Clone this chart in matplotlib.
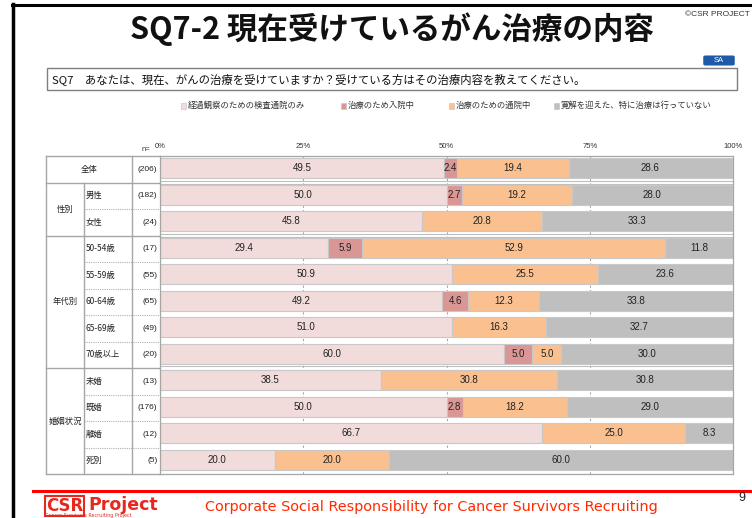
import matplotlib
matplotlib.use("Agg")
import matplotlib.pyplot as plt
from matplotlib.patches import Rectangle, FancyBboxPatch
from matplotlib.lines import Line2D

plt.rcParams['font.family'] = ['Noto Sans CJK JP', 'DejaVu Sans']

# ---------------- data ----------------
row_labels = ["全体", "男性", "女性", "50-54歳", "55-59歳", "60-64歳", "65-69歳", "70歳以上",
              "未婚", "既婚", "離婚", "死別"]
n_values = [206, 182, 24, 17, 55, 65, 49, 20, 13, 176, 12, 5]
series_names = ["経過観察のための検査通院のみ", "治療のため入院中", "治療のための通院中",
                "寛解を迎えた、特に治療は行っていない"]
kensa = [49.5, 50.0, 45.8, 29.4, 50.9, 49.2, 51.0, 60.0, 38.5, 50.0, 66.7, 20.0]
nyuin = [2.4, 2.7, 0.0, 5.9, 0.0, 4.6, 0.0, 5.0, 0.0, 2.8, 0.0, 0.0]
tsuin = [19.4, 19.2, 20.8, 52.9, 25.5, 12.3, 16.3, 5.0, 30.8, 18.2, 25.0, 20.0]
kankai = [28.6, 28.0, 33.3, 11.8, 23.6, 33.8, 32.7, 30.0, 30.8, 29.0, 8.3, 60.0]
groups = [("性別", 1, 2), ("年代別", 3, 7), ("婚姻状況", 8, 11)]
tick_vals = [0, 25, 50, 75, 100]
tick_labels = ["0%", "25%", "50%", "75%", "100%"]

colors = ["#F2DCDB", "#D99694", "#FAC090", "#BFBFBF"]

W, H = 752, 518
fig = plt.figure(figsize=(W / 100, H / 100), dpi=100)

def fx(px):
    return px / W

def fy(py):
    return 1 - py / H

# main axes for bars
x0, x1 = 160, 733
y0, y1 = 156, 474
ax = fig.add_axes([fx(x0), fy(y1), fx(x1) - fx(x0), fy(y0) - fy(y1)])
nrows = len(row_labels)
ax.set_xlim(0, 100)
ax.set_ylim(nrows - 0.5, -0.5)
for s in ax.spines.values():
    s.set_visible(False)
ax.set_xticks([])
ax.set_yticks([])

for v in [25, 50, 75]:
    ax.axvline(v, color="#A6A6A6", lw=0.8, ls=(0, (2, 2)), zorder=0)

series = [kensa, nyuin, tsuin, kankai]
ypos = list(range(nrows))
left = [0.0] * nrows
bh = 0.76
for k, vals in enumerate(series):
    ax.barh([y - 0.04 for y in ypos], vals, left=left, height=bh, color=colors[k],
            edgecolor="#C8C8C8", linewidth=0.8, zorder=2)
    for i, v in enumerate(vals):
        if v > 0:
            ax.text(left[i] + v / 2, ypos[i] - 0.04, f"{v:.1f}", ha="center", va="center",
                    fontsize=7, color="#222222", family=["Liberation Sans"], zorder=3)
    left = [l + v for l, v in zip(left, vals)]

# border of bar area
ax.plot([0, 100], [-0.5, -0.5], color="#A6A6A6", lw=0.9, clip_on=False, zorder=4)
ax.plot([0, 100], [nrows - 0.5, nrows - 0.5], color="#A6A6A6", lw=0.9, clip_on=False, zorder=4)
ax.plot([100, 100], [-0.5, nrows - 0.5], color="#A6A6A6", lw=0.9, clip_on=False, zorder=4)
ax.plot([0, 0], [-0.5, nrows - 0.5], color="#A6A6A6", lw=0.9, clip_on=False, zorder=4)
for b in [0.5, 2.5, 7.5]:
    ax.plot([0, 100], [b - 0.06, b - 0.06], color="#BFBFBF", lw=0.8, clip_on=False, zorder=1)
    ax.plot([0, 100], [b + 0.06, b + 0.06], color="#BFBFBF", lw=0.8, clip_on=False, zorder=1)

# tick labels
for v, t in zip(tick_vals, tick_labels):
    ax.text(v, -0.84, t, ha="center", va="center", fontsize=5.5, color="#333333",
            family=["Liberation Sans"], clip_on=False)
ax.text((146 - x0) / (x1 - x0) * 100, -0.74, "n=", ha="center", va="center", fontsize=5.5,
        color="#333333", family=["Liberation Sans"], clip_on=False)

# ---------------- table on the left ----------------
tr = ax.get_yaxis_transform()  # x in axes coords, y in data

def axx(px):
    return (px - x0) / (x1 - x0)

def hline(pxa, pxb, y, **kw):
    ax.add_line(Line2D([axx(pxa), axx(pxb)], [y, y], transform=tr, clip_on=False, **kw))

def vline(px, ya, yb, **kw):
    ax.add_line(Line2D([axx(px), axx(px)], [ya, yb], transform=tr, clip_on=False, **kw))

lc = "#A6A6A6"
tl, c1, c2, c3 = 46, 84, 132, 160
for b in [-0.5, 0.5, 2.5, 7.5, nrows - 0.5]:
    hline(tl, c3, b, color=lc, lw=1.0)
for b in [1.5, 3.5, 4.5, 5.5, 6.5, 8.5, 9.5, 10.5]:
    hline(c1, c3, b, color="#B0B0B0", lw=0.8, ls=(0, (1, 1)))
vline(tl, -0.5, nrows - 0.5, color=lc, lw=1.0)
vline(c1, 0.5, nrows - 0.5, color=lc, lw=1.0)
vline(c2, -0.5, nrows - 0.5, color=lc, lw=1.0)

ax.text(axx((tl + c2) / 2), 0, row_labels[0], transform=tr, ha="center", va="center",
        fontsize=6, color="#222222")
for i in range(1, nrows):
    ax.text(axx(86), i, row_labels[i], transform=tr, ha="left", va="center",
            fontsize=6, color="#222222")
for i in range(nrows):
    ax.text(axx(157.5), i, f"({n_values[i]})", transform=tr, ha="right", va="center",
            fontsize=6, color="#222222", family=["Liberation Sans"])
for name, a, b in groups:
    ax.text(axx((tl + c1) / 2), (a + b) / 2, name, transform=tr, ha="center", va="center",
            fontsize=6, color="#222222")

# ---------------- decorations ----------------
# black frame
fig.add_artist(Line2D([fx(13), fx(13)], [fy(4), fy(518)], color="black", lw=2.5))
fig.add_artist(Line2D([fx(12), fx(752)], [fy(4.5), fy(4.5)], color="black", lw=2.2))

fig.text(fx(392), fy(29), "SQ7-2 現在受けているがん治療の内容", ha="center", va="center",
         fontsize=22, fontweight="bold", color="#111111")
fig.text(fx(750), fy(14), "©CSR PROJECT", ha="right", va="center", fontsize=6,
         color="#333333", family=["Liberation Sans", "DejaVu Sans"])

sa = FancyBboxPatch((fx(704), fy(65)), fx(30), fy(56) - fy(65),
                    boxstyle="round,pad=0.001,rounding_size=0.003",
                    transform=fig.transFigure, facecolor="#1E5AA8", edgecolor="none")
fig.add_artist(sa)
fig.text(fx(719), fy(60.5), "SA", ha="center", va="center", fontsize=5.5, color="white",
         family=["Liberation Sans"])

qbox = Rectangle((fx(47), fy(90)), fx(737) - fx(47), fy(68) - fy(90), transform=fig.transFigure,
                 facecolor="white", edgecolor="#7F7F7F", lw=1.0)
fig.add_artist(qbox)
fig.text(fx(52), fy(79), "SQ7　あなたは、現在、がんの治療を受けていますか？受けている方はその治療内容を教えてください。",
         ha="left", va="center", fontsize=8.2, color="#111111")

# legend
leg_x = [181, 341, 449, 554]
for xp, name, col in zip(leg_x, series_names, colors):
    fig.add_artist(Rectangle((fx(xp), fy(108.5)), fx(5), fy(103) - fy(108.5),
                             transform=fig.transFigure, facecolor=col,
                             edgecolor="#C8C8C8", lw=0.5))
    fig.text(fx(xp + 7), fy(105.5), name, ha="left", va="center", fontsize=6, color="#333333")

# footer
fig.add_artist(Line2D([fx(33), fx(752)], [fy(491), fy(491)], color="#FF0000", lw=2.2))
fig.text(fx(205), fy(507), "Corporate Social Responsibility for Cancer Survivors Recruiting",
         ha="left", va="center", fontsize=10.4, color="#FF2A00", family=["DejaVu Sans"])
fig.text(fx(742), fy(498), "9", ha="center", va="center", fontsize=9, color="#222222",
         family=["Liberation Sans"])
fig.text(fx(46), fy(506), "CSR", ha="left", va="center", fontsize=12, fontweight="bold",
         color="#E8281E", family=["DejaVu Sans"],
         bbox=dict(facecolor="white", edgecolor="#E8281E", lw=1.5, pad=0.5))
fig.text(fx(88), fy(505), "Project", ha="left", va="center", fontsize=12.5, fontweight="bold",
         color="#E8281E", family=["DejaVu Sans"])
fig.text(fx(45), fy(516), "Cancer Survivors Recruiting Project", ha="left", va="center",
         fontsize=3.5, color="#E8281E", family=["DejaVu Sans"])

fig.savefig("out.png", dpi=100, facecolor="white")
